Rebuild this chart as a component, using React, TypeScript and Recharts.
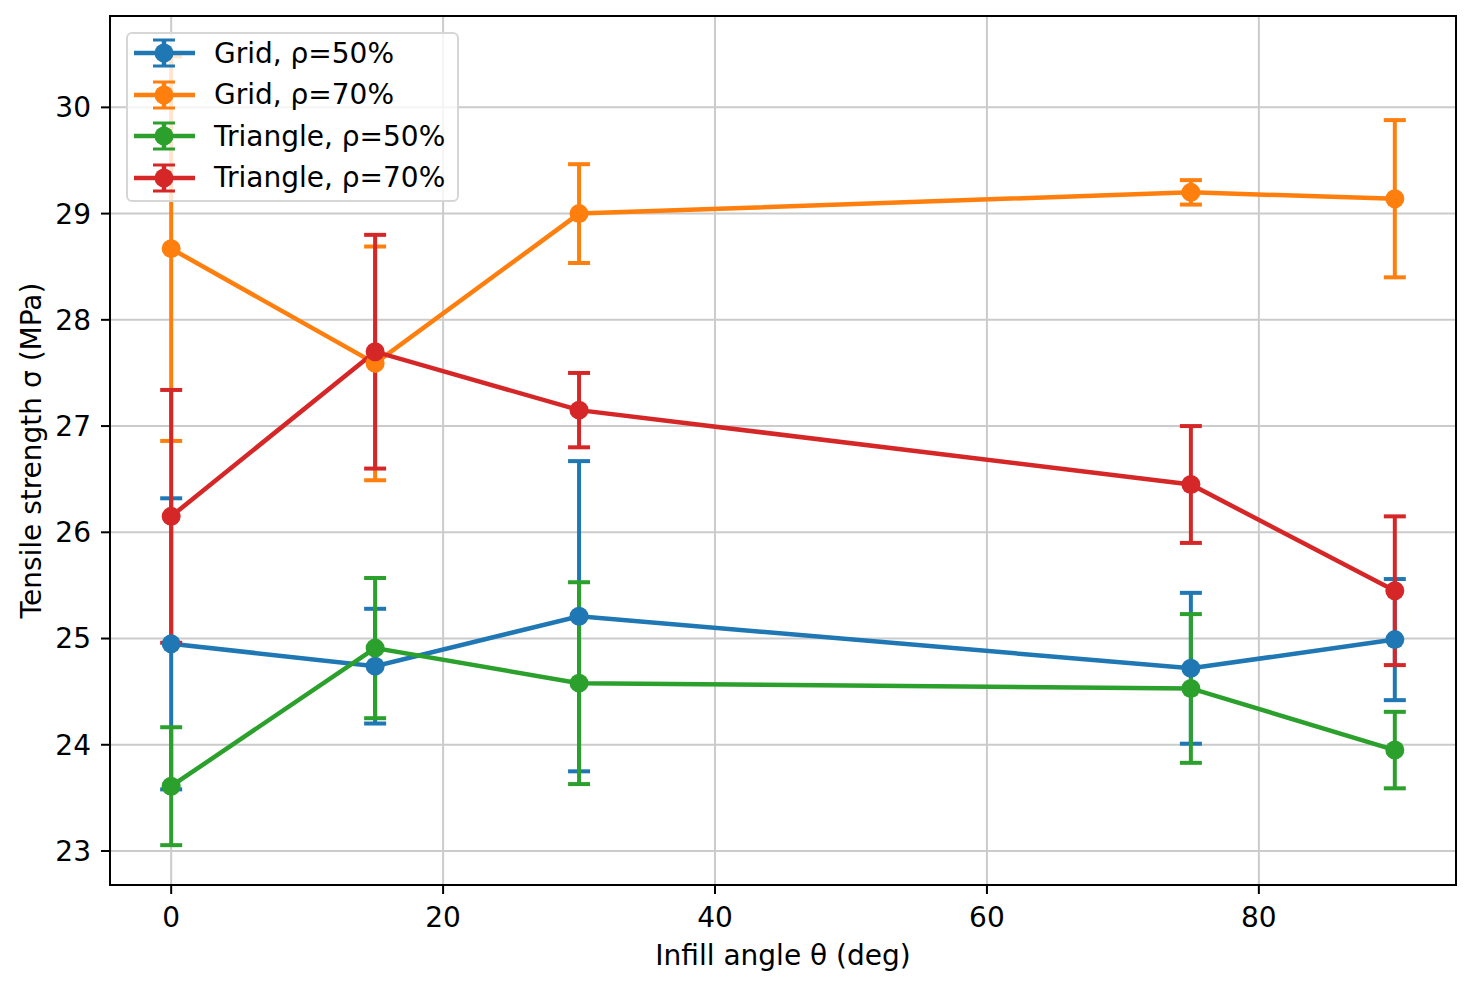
import React from "react";
import {
  CartesianGrid,
  ComposedChart,
  ErrorBar,
  Legend,
  Line,
  ReferenceArea,
  XAxis,
  YAxis,
} from "recharts";

const FONT = "'DejaVu Sans', sans-serif";

// infill angles (deg)
const angles = [0, 15, 30, 75, 90];

// mean tensile strength (MPa) and symmetric error
const grid50 = [24.95, 24.74, 25.21, 24.72, 24.99];
const grid50Err = [1.37, 0.54, 1.46, 0.71, 0.57];
const grid70 = [28.67, 27.59, 29.0, 29.2, 29.14];
const grid70Err = [1.81, 1.1, 0.465, 0.115, 0.74];
const tri50 = [23.61, 24.91, 24.58, 24.53, 23.95];
const tri50Err = [0.555, 0.66, 0.95, 0.7, 0.36];
const tri70 = [26.15, 27.7, 27.15, 26.45, 25.45];
const tri70Err = [1.19, 1.1, 0.35, 0.55, 0.7];

const xTicks = [0, 20, 40, 60, 80];
const yTicks = [23, 24, 25, 26, 27, 28, 29, 30];

const series = [
  { key: "g50", name: "Grid, ρ=50%", color: "#1f77b4", values: grid50, errors: grid50Err },
  { key: "g70", name: "Grid, ρ=70%", color: "#ff7f0e", values: grid70, errors: grid70Err },
  { key: "t50", name: "Triangle, ρ=50%", color: "#2ca02c", values: tri50, errors: tri50Err },
  { key: "t70", name: "Triangle, ρ=70%", color: "#d62728", values: tri70, errors: tri70Err },
];

const data = angles.map((angle, i) => {
  const row: Record<string, number> = { angle };
  series.forEach((s) => {
    row[s.key] = s.values[i];
    row[s.key + "Err"] = s.errors[i];
  });
  return row;
});

const X_DOMAIN: [number, number] = [-4.5, 94.5];
const Y_DOMAIN: [number, number] = [22.68, 30.86];

function LegendBox() {
  return (
    <div
      style={{
        width: 333,
        height: 170,
        border: "2px solid #d6d6d6",
        borderRadius: 6,
        background: "rgba(255,255,255,0.8)",
        boxSizing: "border-box",
      }}
    >
      {series.map((s, i) => (
        <div
          key={s.key}
          style={{
            position: "absolute",
            left: 0,
            top: 21 + i * 41.5 - 20,
            height: 40,
            display: "flex",
            alignItems: "center",
          }}
        >
          <svg width={80} height={40} style={{ marginLeft: 8 }}>
            <line x1={0} y1={20} x2={61} y2={20} stroke={s.color} strokeWidth={4.5} />
            <line x1={30} y1={7} x2={30} y2={33} stroke={s.color} strokeWidth={4.5} />
            <line x1={19} y1={7} x2={41} y2={7} stroke={s.color} strokeWidth={3} />
            <line x1={19} y1={33} x2={41} y2={33} stroke={s.color} strokeWidth={3} />
            <circle cx={30} cy={20} r={9.5} fill={s.color} />
          </svg>
          <span style={{ fontFamily: FONT, fontSize: 28, color: "#000", marginLeft: 0, whiteSpace: "nowrap" }}>
            {s.name}
          </span>
        </div>
      ))}
    </div>
  );
}

export default function App() {
  return (
    <ComposedChart
      width={1466}
      height={970}
      data={data}
      margin={{ top: 8, right: 18, bottom: 0, left: 1 }}
      style={{ fontFamily: FONT }}
    >
      <CartesianGrid stroke="#cbcbcb" strokeWidth={2} />
      <XAxis
        dataKey="angle"
        type="number"
        domain={X_DOMAIN}
        ticks={xTicks}
        allowDataOverflow
        height={93}
        tickSize={9}
        tickMargin={13}
        axisLine={{ stroke: "#000", strokeWidth: 2 }}
        tickLine={{ stroke: "#000", strokeWidth: 2 }}
        tick={{ fill: "#000", fontSize: 28, fontFamily: FONT }}
        label={({ viewBox }: any) => (
          <text
            x={viewBox.x + viewBox.width / 2}
            y={viewBox.y + 70}
            textAnchor="middle"
            dominantBaseline="central"
            fontSize={28}
            fontFamily={FONT}
            fill="#000"
          >
            Infill angle θ (deg)
          </text>
        )}
      />
      <YAxis
        type="number"
        domain={Y_DOMAIN}
        ticks={yTicks}
        allowDataOverflow
        width={101}
        tickSize={9}
        tickMargin={10}
        axisLine={{ stroke: "#000", strokeWidth: 2 }}
        tickLine={{ stroke: "#000", strokeWidth: 2 }}
        tick={{ fill: "#000", fontSize: 28, fontFamily: FONT }}
        label={({ viewBox }: any) => {
          const cx = viewBox.x + 22;
          const cy = viewBox.y + viewBox.height / 2;
          return (
            <text
              x={cx}
              y={cy}
              transform={`rotate(-90 ${cx} ${cy})`}
              textAnchor="middle"
              dominantBaseline="central"
              fontSize={28}
              fontFamily={FONT}
              fill="#000"
            >
              Tensile strength σ (MPa)
            </text>
          );
        }}
      />
      {series.map((s) => (
        <Line
          key={s.key}
          dataKey={s.key}
          name={s.name}
          stroke={s.color}
          strokeWidth={4.5}
          dot={{ r: 9.5, fill: s.color, stroke: s.color, strokeWidth: 0 }}
          activeDot={false}
          isAnimationActive={false}
        >
          <ErrorBar
            dataKey={s.key + "Err"}
            direction="y"
            width={11}
            stroke={s.color}
            strokeWidth={4}
            isAnimationActive={false}
          />
        </Line>
      ))}
      <ReferenceArea
        x1={X_DOMAIN[0]}
        x2={X_DOMAIN[1]}
        y1={Y_DOMAIN[0]}
        y2={Y_DOMAIN[1]}
        fill="none"
        stroke="#000"
        strokeWidth={2}
        ifOverflow="visible"
      />
      <Legend
        layout="vertical"
        align="center"
        verticalAlign="middle"
        wrapperStyle={{ left: 118, top: 24, width: 333, height: 170 }}
        content={() => <LegendBox />}
      />
    </ComposedChart>
  );
}
